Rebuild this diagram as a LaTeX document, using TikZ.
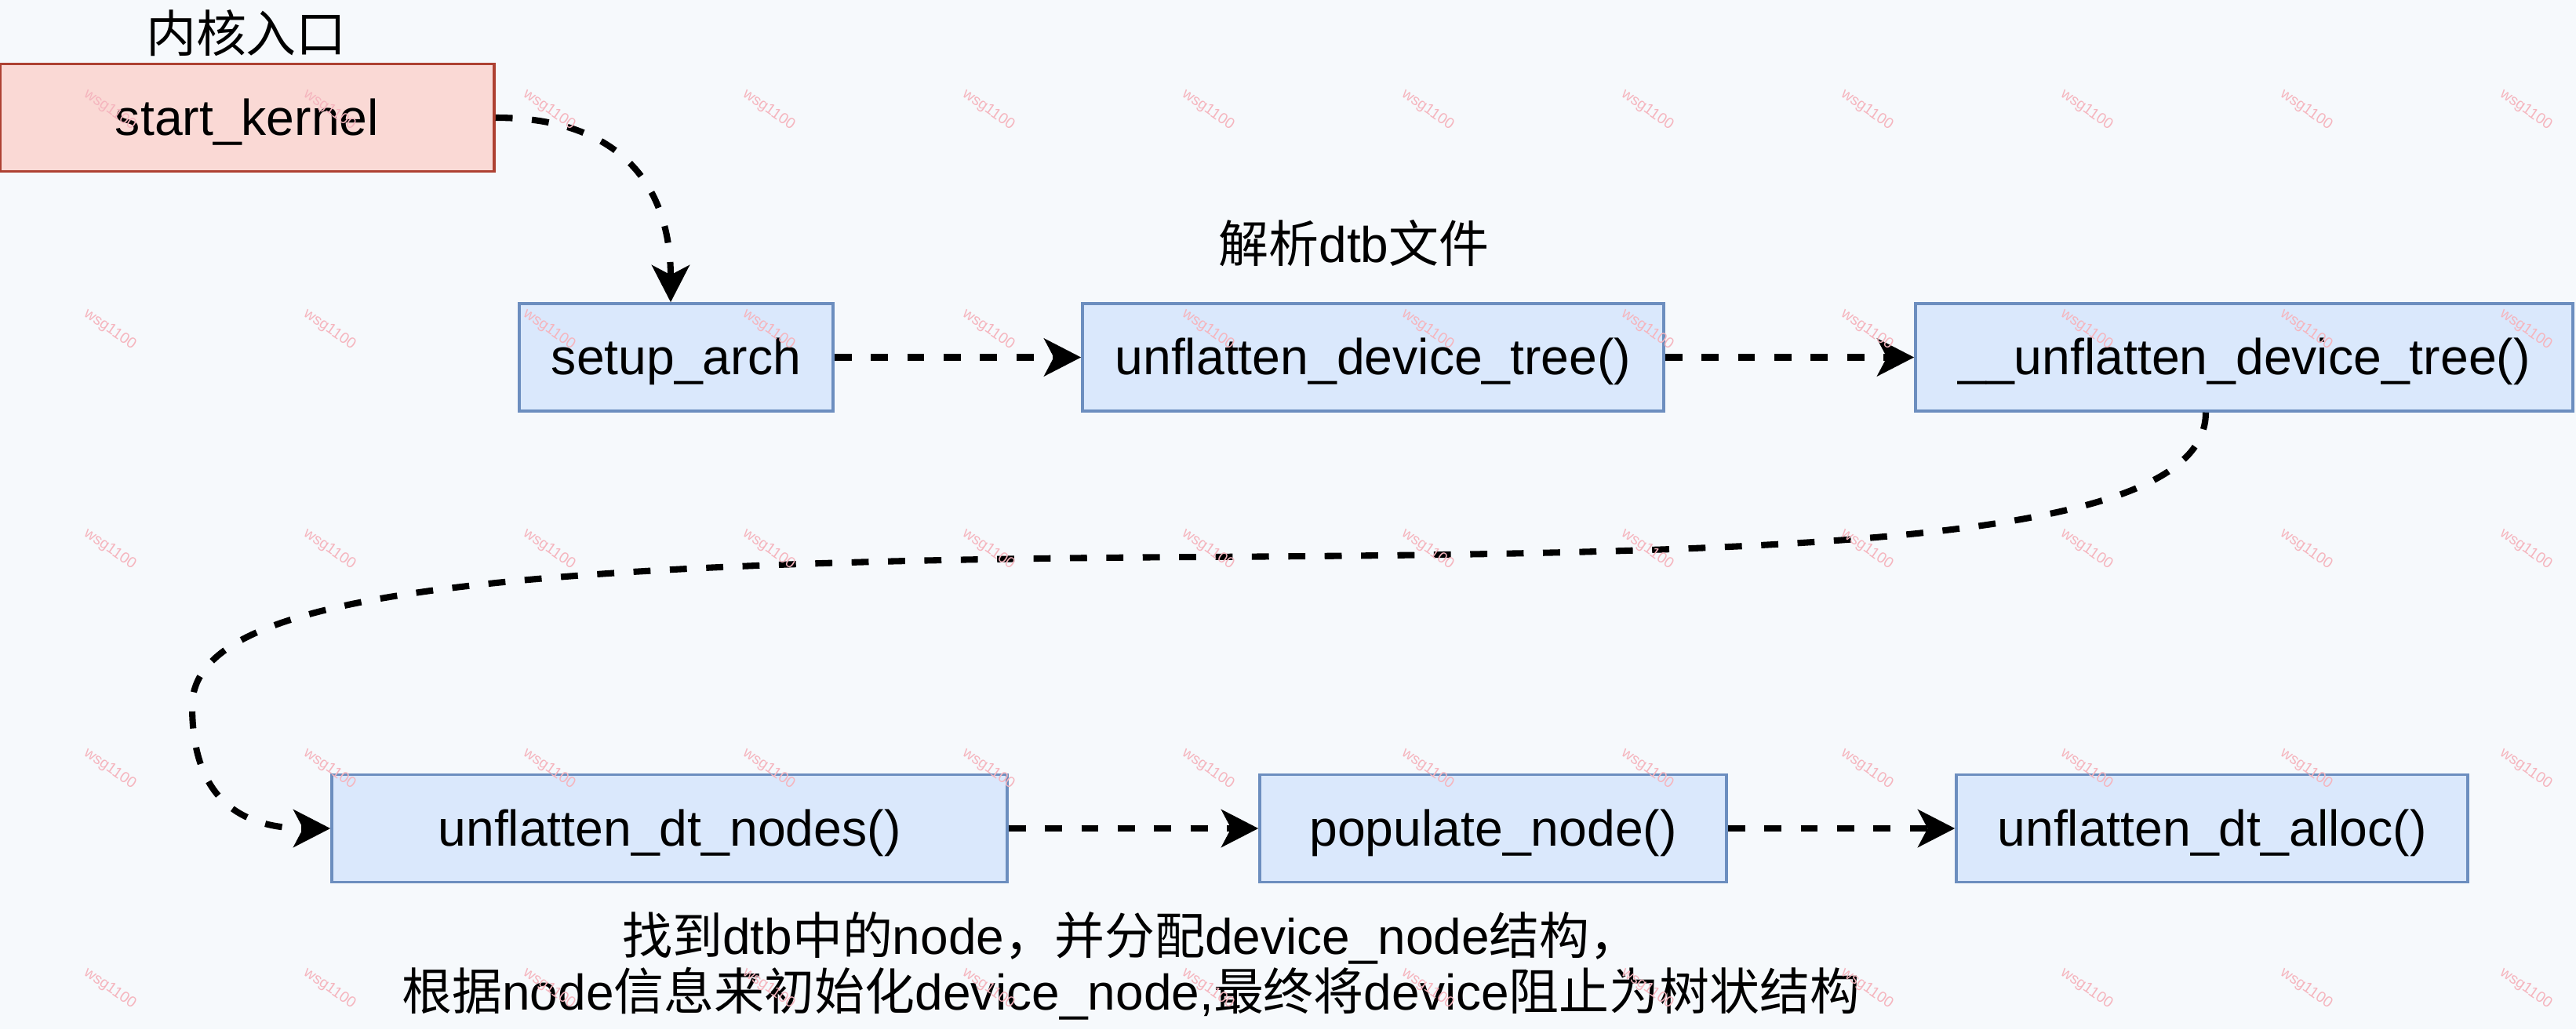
\documentclass[tikz,border=0pt]{standalone}
\usepackage{fontspec}
\setmainfont{Liberation Sans}
\newfontfamily\cjk{Noto Sans CJK SC}
\newcommand{\zh}[1]{{\cjk #1}}
\usetikzlibrary{arrows.meta}
\definecolor{bgpaper}{HTML}{F6F9FC}
\definecolor{boxblue}{HTML}{DAE8FC}
\definecolor{lineblue}{HTML}{6C8EBF}
\definecolor{boxred}{HTML}{FAD9D5}
\definecolor{linered}{HTML}{AE4132}
\definecolor{markpink}{HTML}{F5B5BE}

\begin{document}
\begin{tikzpicture}[
    func/.style={draw=lineblue, fill=boxblue, line width=1pt, minimum height=1.37cm, inner sep=0pt,
        text height=0.46cm, text depth=0.02cm, font=\fontsize{18.3}{21}\selectfont},
    entry/.style={func, draw=linered, fill=boxred},
    call/.style={line width=2.3pt, dash pattern=on 6.2pt off 7pt, -{Stealth[length=13.4pt,width=13.6pt,inset=3.5pt]}},
    note/.style={font=\fontsize{18.2}{20.2}\selectfont, align=center, inner sep=0pt},
    wmark/.style={text=markpink, font=\fontsize{5.5}{6}\selectfont, rotate=-35, inner sep=0pt}
]
    \useasboundingbox (0,0) rectangle (32.84,-13.12);
    \fill[bgpaper] (0,0) rectangle (32.84,-13.12);
    % boxes
    \node[entry, minimum width=6.30cm] (sk) at (3.15,-1.50) {start\_kernel};
    \node[func, minimum width=4.00cm] (sa) at (8.62,-4.555) {setup\_arch};
    \node[func, minimum width=7.41cm] (udt) at (17.505,-4.555) {unflatten\_device\_tree()};
    \node[func, minimum width=8.38cm] (udt2) at (28.61,-4.555) {\_\_unflatten\_device\_tree()};
    \node[func, minimum width=8.61cm] (dtn) at (8.535,-10.56) {unflatten\_dt\_nodes()};
    \node[func, minimum width=5.95cm] (pn) at (19.035,-10.56) {populate\_node()};
    \node[func, minimum width=6.52cm] (dta) at (28.20,-10.56) {unflatten\_dt\_alloc()};
    % labels
    \node[note] (entrylbl) at (3.14,-0.42) {\zh{内核入口}};
    \node[note] (parselbl) at (17.26,-3.10) {\zh{解析}dtb\zh{文件}};
    \node[note] (desc) at (14.42,-12.31) {\zh{找到}dtb\zh{中的}node\zh{，并分配}device\_node\zh{结构，}\\
        \zh{根据}node\zh{信息来初始化}device\_node,\zh{最终将}device\zh{阻止为树状结构}};
    % calls
    \coordinate (bend1) at (15.33,-7.10);
    \coordinate (bend2) at (2.45,-9.00);
    \draw[call] (sk.east) .. controls +(1.70,0) and +(0,1.37) .. ([xshift=-0.07cm]sa.north);
    \draw[call] (sa) -- (udt);
    \draw[call] (udt) -- (udt2);
    \draw[call] ([xshift=-0.49cm]udt2.south) .. controls +(0,-1.66) and +(7.67,0.05) .. (bend1)
        .. controls +(-9.33,-0.05) and +(0,1.40) .. (bend2)
        .. controls +(0,-1.10) and +(-1.23,0) .. (dtn.west);
    \draw[call] (dtn) -- (pn);
    \draw[call] (pn) -- (dta);
    % watermark
    \foreach \c in {0,...,11}{
        \foreach \r in {0,...,4}{
            \node[wmark] (wm-\c-\r) at (1.40+2.80*\c,-1.40-2.80*\r) {wsg1100};
        }
    }
\end{tikzpicture}
\end{document}
